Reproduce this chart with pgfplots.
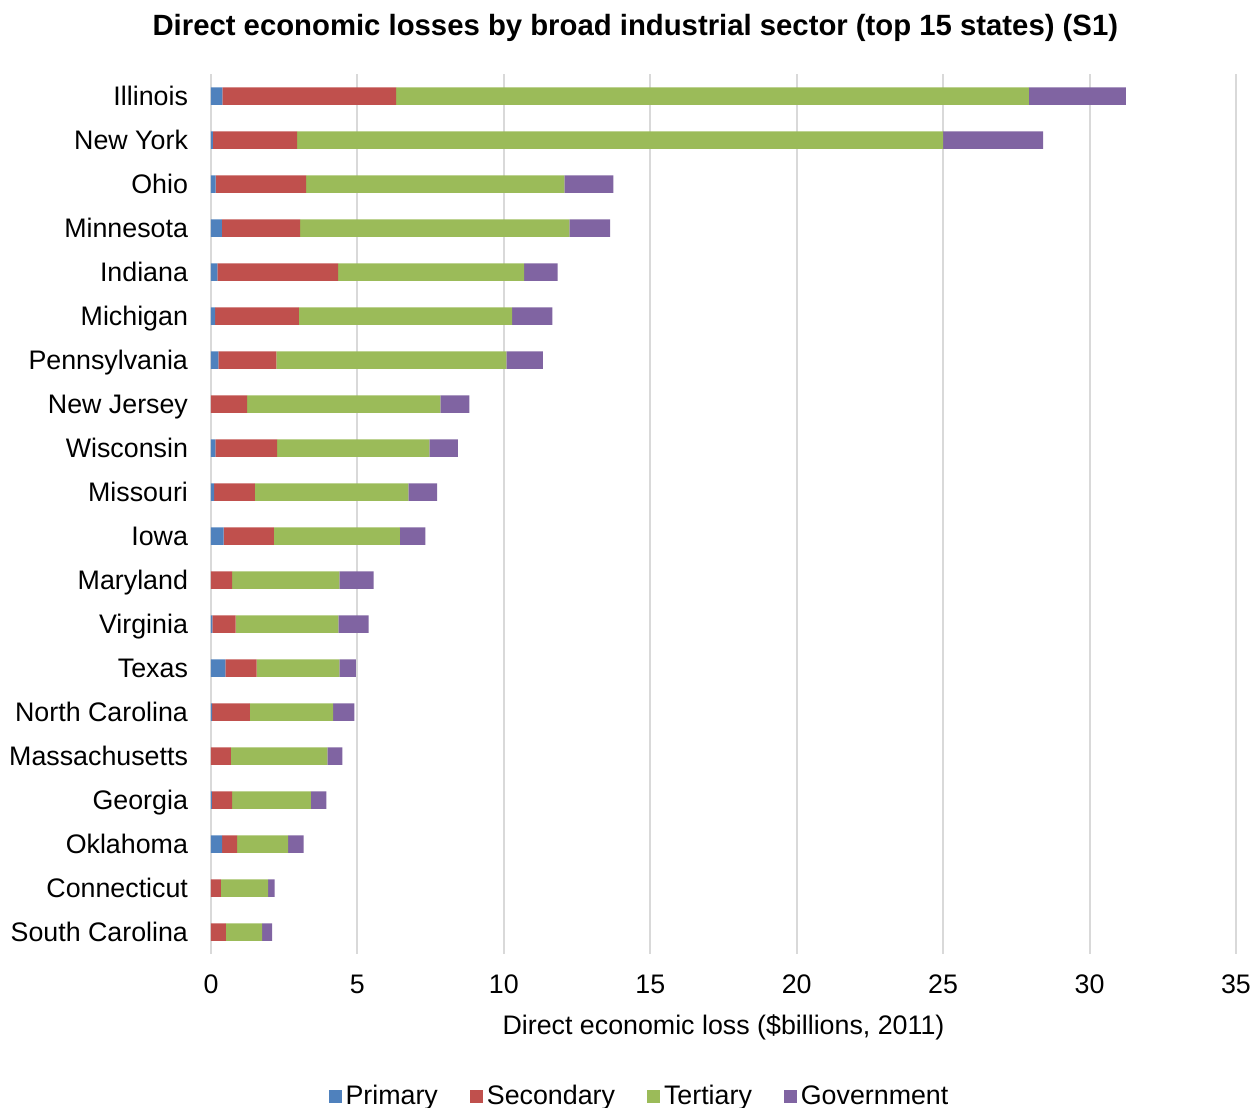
\documentclass[border=0pt]{standalone}
\usepackage{fontspec}
\setmainfont{Liberation Sans}
\usepackage{pgfplots}
\usepackage{pgfplotstable}
\pgfplotsset{compat=1.18}
\definecolor{cP}{HTML}{4F81BD}
\definecolor{cS}{HTML}{C0504D}
\definecolor{cT}{HTML}{9BBB59}
\definecolor{cG}{HTML}{8064A2}
\definecolor{gridc}{HTML}{D9D9D9}
\pgfplotstableread{
idx P S T G
0 0.39 5.93 21.61 3.31
1 0.06 2.88 22.06 3.41
2 0.16 3.09 8.82 1.67
3 0.37 2.67 9.20 1.39
4 0.22 4.12 6.35 1.15
5 0.14 2.86 7.28 1.38
6 0.25 1.98 7.86 1.24
7 0.00 1.23 6.60 0.99
8 0.15 2.11 5.20 0.97
9 0.11 1.39 5.24 0.98
10 0.43 1.72 4.30 0.87
11 0.00 0.72 3.66 1.17
12 0.05 0.79 3.51 1.03
13 0.49 1.07 2.82 0.57
14 0.04 1.29 2.84 0.73
15 0.00 0.68 3.29 0.52
16 0.03 0.69 2.69 0.53
17 0.38 0.51 1.74 0.53
18 0.00 0.34 1.61 0.22
19 0.00 0.51 1.24 0.34
}\datatable
\begin{document}
\begin{tikzpicture}
\useasboundingbox (-105.5pt,-77pt) rectangle (524.5pt,477pt);
\begin{axis}[
  at={(0,0)}, anchor=south west,
  scale only axis, width=512.5pt, height=440pt,
  xbar stacked, bar width=8.75pt,
  xmin=0, xmax=35, ymin=-0.5, ymax=19.5,
  y dir=reverse,
  ytick={0,...,19},
  yticklabels={Illinois,New York,Ohio,Minnesota,Indiana,Michigan,Pennsylvania,New Jersey,Wisconsin,Missouri,Iowa,Maryland,Virginia,Texas,North Carolina,Massachusetts,Georgia,Oklahoma,Connecticut,South Carolina},
  xtick={0,5,...,35},
  font=\fontsize{13.4}{16}\selectfont,
  /pgf/number format/assume math mode=true,
  xmajorgrids, major grid style={gridc, line width=1pt},
  axis line style={draw=none}, major tick length=0pt,
  yticklabel style={anchor=east, xshift=-8pt, text height=9.6pt, text depth=0pt},
  xticklabel style={anchor=north, yshift=-7pt},
  xlabel={Direct economic loss (\$billions, 2011)},
  xlabel style={at={(axis description cs:0.5,-0.083)}, anchor=center},
  legend columns=4,
  legend style={at={(rel axis cs:0.419,-0.162)}, anchor=center, draw=none, font=\fontsize{13.4}{16}\selectfont,
    /tikz/every even column/.append style={column sep=14pt}},
  legend image code/.code={\fill[#1] (0pt,-3.25pt) rectangle (6.5pt,3.25pt);},
  every axis plot/.append style={draw=none},
  clip=false,
]
\addplot[fill=cP] table[x=P,y=idx]{\datatable};
\addplot[fill=cS] table[x=S,y=idx]{\datatable};
\addplot[fill=cT] table[x=T,y=idx]{\datatable};
\addplot[fill=cG] table[x=G,y=idx]{\datatable};
\legend{Primary,Secondary,Tertiary,Government}
\node[font=\bfseries\fontsize{14.65}{17}\selectfont, anchor=center] at (rel axis cs:0.414,1.0523) {Direct economic losses by broad industrial sector (top 15 states) (S1)};
\end{axis}
\end{tikzpicture}
\end{document}
